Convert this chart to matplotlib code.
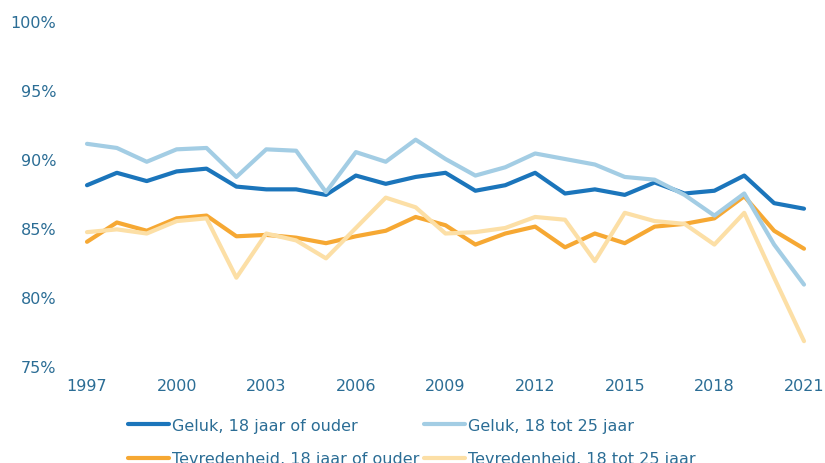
import matplotlib
matplotlib.use("Agg")
import matplotlib.pyplot as plt

# jaren en percentages
years = list(range(1997, 2022))

geluk_18plus = [88.1, 89.0, 88.4, 89.1, 89.3, 88.0, 87.8, 87.8, 87.4, 88.8,
                88.2, 88.7, 89.0, 87.7, 88.1, 89.0, 87.5, 87.8, 87.4, 88.3,
                87.5, 87.7, 88.8, 86.8, 86.4]
geluk_18_25 = [91.1, 90.8, 89.8, 90.7, 90.8, 88.7, 90.7, 90.6, 87.6, 90.5,
               89.8, 91.4, 90.0, 88.8, 89.4, 90.4, 90.0, 89.6, 88.7, 88.5,
               87.4, 85.9, 87.5, 83.8, 80.9]
tevreden_18plus = [84.0, 85.4, 84.8, 85.7, 85.9, 84.4, 84.5, 84.3, 83.9, 84.4,
                   84.8, 85.8, 85.2, 83.8, 84.6, 85.1, 83.6, 84.6, 83.9, 85.1,
                   85.3, 85.7, 87.3, 84.8, 83.5]
tevreden_18_25 = [84.7, 84.9, 84.6, 85.5, 85.7, 81.4, 84.6, 84.1, 82.8, 85.0,
                  87.2, 86.5, 84.6, 84.7, 85.0, 85.8, 85.6, 82.6, 86.1, 85.5,
                  85.3, 83.8, 86.1, 81.4, 76.8]

labels = ["Geluk, 18 jaar of ouder", "Geluk, 18 tot 25 jaar",
          "Tevredenheid, 18 jaar of ouder", "Tevredenheid, 18 tot 25 jaar"]
colors = ["#1b75bb", "#a3cde4", "#f6a833", "#fcdfa6"]
text_color = "#2b6d95"

plt.rcParams['font.family'] = ['DejaVu Sans']

fig = plt.figure(figsize=(8.25, 4.64), dpi=100)
ax = fig.add_axes([87 / 825, 1 - 367 / 464, (804 - 87) / 825, (367 - 22) / 464])

series = [geluk_18plus, geluk_18_25, tevreden_18plus, tevreden_18_25]
order = [2, 3, 0, 1]  # volgorde van tekenen
handles = {}
for i in order:
    h, = ax.plot(years, series[i], color=colors[i], linewidth=3,
                 solid_capstyle='round', clip_on=False, label=labels[i])
    handles[i] = h

ax.set_xlim(1997, 2021)
ax.set_ylim(75, 100)
ax.set_xticks(range(1997, 2022, 3))
ax.set_yticks(range(75, 101, 5))
ax.set_yticklabels([f"{v}%" for v in range(75, 101, 5)])

for s in ax.spines.values():
    s.set_visible(False)
ax.tick_params(axis='both', length=0, labelsize=11.5, colors=text_color)
ax.tick_params(axis='y', pad=22)
ax.tick_params(axis='x', pad=9)

# legenda: rij 1 Geluk, rij 2 Tevredenheid (matplotlib vult per kolom)
leg_order = [0, 2, 1, 3]
leg = fig.legend([handles[i] for i in leg_order], [labels[i] for i in leg_order],
                 ncol=2, loc='upper left',
                 bbox_to_anchor=(128 / 825, 1 - 419 / 464),
                 frameon=False, fontsize=11.5, handlelength=2.55,
                 handletextpad=0.2, columnspacing=0.3, labelspacing=1.15,
                 borderpad=0, borderaxespad=0)
for t in leg.get_texts():
    t.set_color(text_color)

fig.savefig("out.png", dpi=100)
